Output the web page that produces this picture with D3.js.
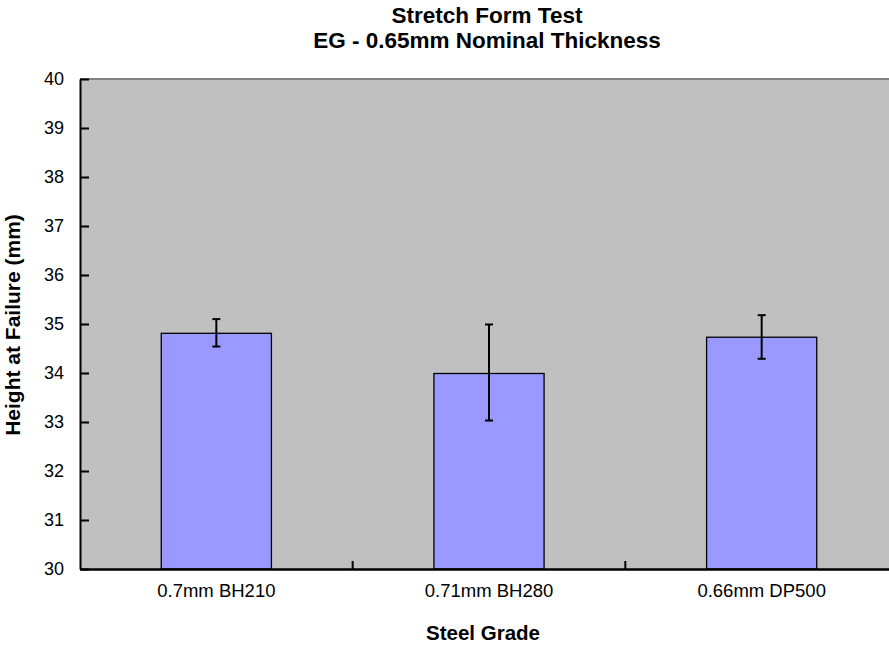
<!DOCTYPE html>
<html>
<head>
<meta charset="utf-8">
<script src="https://cdn.jsdelivr.net/npm/d3@7"></script>
<style>
  body { margin: 0; background: #fff; }
  text { font-family: "Liberation Sans", Arial, sans-serif; fill: #000; }
</style>
</head>
<body>
<div id="chart"></div>
<script>
// data
const grades = ["0.7mm BH210", "0.71mm BH280", "0.66mm DP500"];
const heights = [34.81, 33.99, 34.73];
const errHigh = [35.10, 34.99, 35.18];
const errLow = [34.54, 33.03, 34.29];
const yTicks = [30, 31, 32, 33, 34, 35, 36, 37, 38, 39, 40];

const width = 889,
    height = 650,
    margin = {top: 79, bottom: 81, left: 80, right: -9};

const data = grades.map((g, i) => ({grade: g, h: heights[i], lo: errLow[i], hi: errHigh[i]}));

const svg = d3.select("#chart")
    .append("svg")
    .attr("width", width)
    .attr("height", height);

const xScale = d3.scaleBand()
    .domain(grades)
    .range([margin.left, width - margin.right]);

const yScale = d3.scaleLinear()
    .domain([30, 40])
    .range([height - margin.bottom, margin.top]);

const barW = xScale.bandwidth() * 0.404;

// plot background
svg.append("rect")
    .attr("x", margin.left)
    .attr("y", margin.top)
    .attr("width", width - margin.right - margin.left)
    .attr("height", height - margin.bottom - margin.top)
    .attr("fill", "#c0c0c0");

svg.append("line")
    .attr("x1", margin.left).attr("x2", width)
    .attr("y1", margin.top).attr("y2", margin.top)
    .attr("stroke", "#808080")
    .attr("stroke-width", 2);

// bars
svg.selectAll("rect.bar")
    .data(data)
    .join("rect")
    .attr("class", "bar")
    .attr("x", d => xScale(d.grade) + xScale.bandwidth() / 2 - barW / 2)
    .attr("y", d => yScale(d.h))
    .attr("width", barW)
    .attr("height", d => yScale(30) - yScale(d.h))
    .attr("fill", "#9999ff")
    .attr("stroke", "#000")
    .attr("stroke-width", 1.3);

// error bars
const err = svg.selectAll("g.err")
    .data(data)
    .join("g")
    .attr("class", "err")
    .attr("transform", d => `translate(${xScale(d.grade) + xScale.bandwidth() / 2}, 0)`);

err.append("line")
    .attr("y1", d => yScale(d.lo))
    .attr("y2", d => yScale(d.hi))
    .attr("stroke", "#000")
    .attr("stroke-width", 2);

err.selectAll("line.cap")
    .data(d => [d.lo, d.hi])
    .join("line")
    .attr("class", "cap")
    .attr("x1", -4).attr("x2", 4)
    .attr("y1", v => yScale(v))
    .attr("y2", v => yScale(v))
    .attr("stroke", "#000")
    .attr("stroke-width", 2);

// y axis
const yAxis = d3.axisLeft(yScale)
    .tickValues(yTicks)
    .tickSizeInner(-9)
    .tickSizeOuter(0)
    .tickPadding(16);

const gy = svg.append("g")
    .attr("class", "y-axis")
    .attr("transform", `translate(${margin.left}, 0)`)
    .call(yAxis);
gy.select(".domain").attr("stroke", "#000").attr("stroke-width", 2);
gy.selectAll(".tick line").attr("stroke", "#000").attr("stroke-width", 2);
gy.selectAll(".tick text")
    .style("font-size", "18px")
    .attr("fill", "#000");

// x axis
const gx = svg.append("g")
    .attr("class", "x-axis")
    .attr("transform", `translate(0, ${height - margin.bottom})`)
    .call(d3.axisBottom(xScale).tickSize(0).tickSizeOuter(0).tickPadding(22));
gx.select(".domain").attr("stroke", "#000").attr("stroke-width", 2.5);
gx.selectAll(".tick text")
    .style("font-size", "18.5px")
    .attr("dy", "0.3em")
    .attr("fill", "#000");

// tick marks between categories
svg.selectAll("line.xtick")
    .data(grades.slice(1))
    .join("line")
    .attr("class", "xtick")
    .attr("x1", d => xScale(d)).attr("x2", d => xScale(d))
    .attr("y1", yScale(30)).attr("y2", yScale(30) - 8)
    .attr("stroke", "#000")
    .attr("stroke-width", 2);

// titles
const title = svg.append("text")
    .attr("text-anchor", "middle")
    .style("font-size", "22.5px")
    .style("font-weight", "bold");
title.append("tspan").attr("x", 487).attr("y", 22.5).text("Stretch Form Test");
title.append("tspan").attr("x", 487).attr("y", 48).text("EG - 0.65mm Nominal Thickness");

svg.append("text")
    .attr("class", "axis-label")
    .attr("x", 483)
    .attr("y", 640)
    .attr("text-anchor", "middle")
    .style("font-size", "20.5px")
    .style("font-weight", "bold")
    .text("Steel Grade");

svg.append("text")
    .attr("class", "axis-label")
    .attr("transform", "translate(20, 325) rotate(-90)")
    .attr("text-anchor", "middle")
    .style("font-size", "21px")
    .style("font-weight", "bold")
    .text("Height at Failure (mm)");
</script>
</body>
</html>
